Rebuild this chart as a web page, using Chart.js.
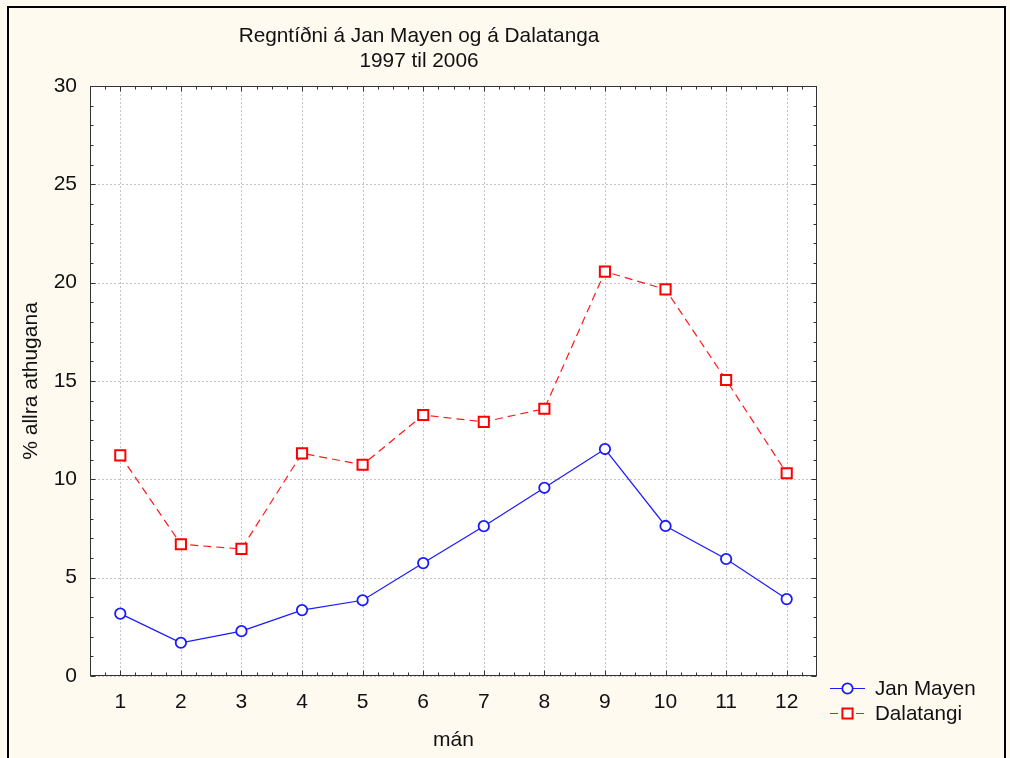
<!DOCTYPE html>
<html><head><meta charset="utf-8">
<script src="https://cdn.jsdelivr.net/npm/chart.js@4.4.1/dist/chart.umd.min.js"></script>
<style>html,body{margin:0;padding:0;background:#fffaf0;overflow:hidden}</style>
</head><body>
<canvas id="c" width="1010" height="758"></canvas>
<script>
// ---- data ----
const months = ['1','2','3','4','5','6','7','8','9','10','11','12'];
const janMayen = [3.17, 1.69, 2.28, 3.35, 3.85, 5.74, 7.62, 9.57, 11.54, 7.63, 5.95, 3.91];
const dalatangi = [11.22, 6.70, 6.46, 11.32, 10.74, 13.27, 12.92, 13.59, 20.56, 19.66, 15.05, 10.31];
const seriesNames = ['Jan Mayen', 'Dalatangi'];
const titleLines = ['Regntíðni á Jan Mayen og á Dalatanga', '1997 til 2006'];
const xTitle = 'mán';
const yTitle = '% allra athugana';

const FONT = "'Liberation Sans', Arial, sans-serif";
const FS = 21;
Chart.defaults.font.family = FONT;
Chart.defaults.font.size = FS;
Chart.defaults.color = '#111';

const BG = '#fffaf0';

const decor = {
  id: 'decor',
  beforeDraw(chart) {
    const {ctx, chartArea: a, width, height} = chart;
    ctx.save();
    ctx.fillStyle = BG; ctx.fillRect(0, 0, width, height);
    ctx.fillStyle = '#fff'; ctx.fillRect(a.left, a.top, a.right - a.left, a.bottom - a.top);
    // outer frame
    ctx.strokeStyle = '#000'; ctx.lineWidth = 2;
    ctx.beginPath(); ctx.moveTo(8, height + 2); ctx.lineTo(8, 7); ctx.lineTo(1005, 7); ctx.lineTo(1005, height + 2); ctx.stroke();
    // title
    ctx.fillStyle = '#111'; ctx.font = '20.8px ' + FONT; ctx.textAlign = 'center'; ctx.textBaseline = 'alphabetic';
    ctx.fillText(titleLines[0], 419, 42);
    ctx.fillText(titleLines[1], 419, 67);
    ctx.restore();
  },
  beforeDatasetsDraw(chart) {
    const {ctx, chartArea: a} = chart;
    const xs = chart.scales.x, ys = chart.scales.y;
    ctx.save();
    // grid
    ctx.strokeStyle = '#c4c4c4'; ctx.lineWidth = 1; ctx.setLineDash([2, 2]);
    ys.ticks.forEach(t => {
      const y = Math.round(ys.getPixelForValue(t.value)) + 0.5;
      ctx.beginPath(); ctx.moveTo(a.left, y); ctx.lineTo(a.right, y); ctx.stroke();
    });
    months.forEach((m, i) => {
      const x = Math.round(xs.getPixelForValue(i)) + 0.5;
      ctx.beginPath(); ctx.moveTo(x, a.top); ctx.lineTo(x, a.bottom); ctx.stroke();
    });
    ctx.setLineDash([]);
    // ticks (inward, all four sides)
    ctx.strokeStyle = '#333'; ctx.lineWidth = 1;
    const L = Math.round(a.left) + 0.5, R = Math.round(a.right) - 0.5, T = Math.round(a.top) + 0.5, B = Math.round(a.bottom) - 0.5;
    for (let v = ys.min; v <= ys.max; v += 1) {
      const y = Math.round(ys.getPixelForValue(v)) + 0.5;
      const len = (v % 5 === 0) ? 5 : 3;
      ctx.beginPath(); ctx.moveTo(L, y); ctx.lineTo(L + len, y); ctx.moveTo(R, y); ctx.lineTo(R - len, y); ctx.stroke();
    }
    for (let k = -2; k <= (months.length - 1) * 4 + 2; k++) {
      const v = k / 4;
      const x = Math.round(xs.getPixelForValue(v)) + 0.5;
      if (x < a.left || x > a.right) continue;
      const len = (k % 4 === 0) ? 5 : 3;
      ctx.beginPath(); ctx.moveTo(x, B); ctx.lineTo(x, B - len); ctx.moveTo(x, T); ctx.lineTo(x, T + len); ctx.stroke();
    }
    // plot frame
    ctx.strokeStyle = '#333';
    ctx.strokeRect(L, T, R - L, B - T);
    ctx.restore();
  },
  afterDraw(chart) {
    const {ctx} = chart;
    ctx.save();
    const rows = [688, 713];
    chart.data.datasets.forEach((ds, i) => {
      const y = rows[i] + 0.5;
      ctx.strokeStyle = ds.borderColor; ctx.lineWidth = 1;
      ctx.setLineDash(ds.borderDash || []);
      ctx.beginPath(); ctx.moveTo(830, y); ctx.lineTo(865, y); ctx.stroke();
      ctx.setLineDash([]);
      ctx.fillStyle = '#fff'; ctx.strokeStyle = ds.pointBorderColor; ctx.lineWidth = ds.pointBorderWidth;
      if (ds.pointStyle === 'circle') {
        ctx.beginPath(); ctx.arc(847.5, y, ds.pointRadius, 0, Math.PI * 2); ctx.fill(); ctx.stroke();
      } else {
        const s = Math.SQRT1_2 * ds.pointRadius;
        ctx.beginPath(); ctx.rect(847.5 - s, y - s, 2 * s, 2 * s); ctx.fill(); ctx.stroke();
      }
      ctx.fillStyle = '#111'; ctx.font = '20.6px ' + FONT; ctx.textAlign = 'left'; ctx.textBaseline = 'middle';
      ctx.fillText(ds.label, 875, y + 1);
    });
    ctx.restore();
  }
};

new Chart(document.getElementById('c'), {
  type: 'line',
  data: {
    labels: months,
    datasets: [
      {
        label: seriesNames[0], data: janMayen,
        borderColor: '#1a1aff', borderWidth: 1.2,
        pointStyle: 'circle', pointRadius: 5.2, pointBorderWidth: 1.8,
        pointBorderColor: '#1a1aff', pointBackgroundColor: '#fff', tension: 0
      },
      {
        label: seriesNames[1], data: dalatangi,
        borderColor: '#ff1a1a', borderWidth: 1.2, borderDash: [8, 5],
        pointStyle: 'rect', pointRadius: 7.2, pointBorderWidth: 2,
        pointBorderColor: '#ff0000', pointBackgroundColor: '#fff', tension: 0
      }
    ]
  },
  options: {
    responsive: false, animation: false, devicePixelRatio: 1,
    layout: {padding: {left: 0, top: 86, right: 193, bottom: 0}},
    plugins: {legend: {display: false}, title: {display: false}, tooltip: {enabled: false}},
    scales: {
      x: {
        type: 'category', offset: true,
        grid: {display: false, drawTicks: false}, border: {display: false},
        ticks: {padding: 14, color: '#111', font: {size: FS}, maxRotation: 0, autoSkip: false},
        title: {display: true, text: xTitle, color: '#111', font: {size: FS}, padding: {top: 0, bottom: 5}},
        afterFit(s) { s.height = 82; }
      },
      y: {
        min: 0, max: 30,
        grid: {display: false, drawTicks: false}, border: {display: false},
        ticks: {stepSize: 5, padding: 13, color: '#111', font: {size: FS}},
        title: {display: true, text: yTitle, color: '#111', font: {size: FS}, padding: {top: 19, bottom: 0}},
        afterFit(s) { s.width = 90; }
      }
    }
  },
  plugins: [decor]
});
</script>
</body></html>
